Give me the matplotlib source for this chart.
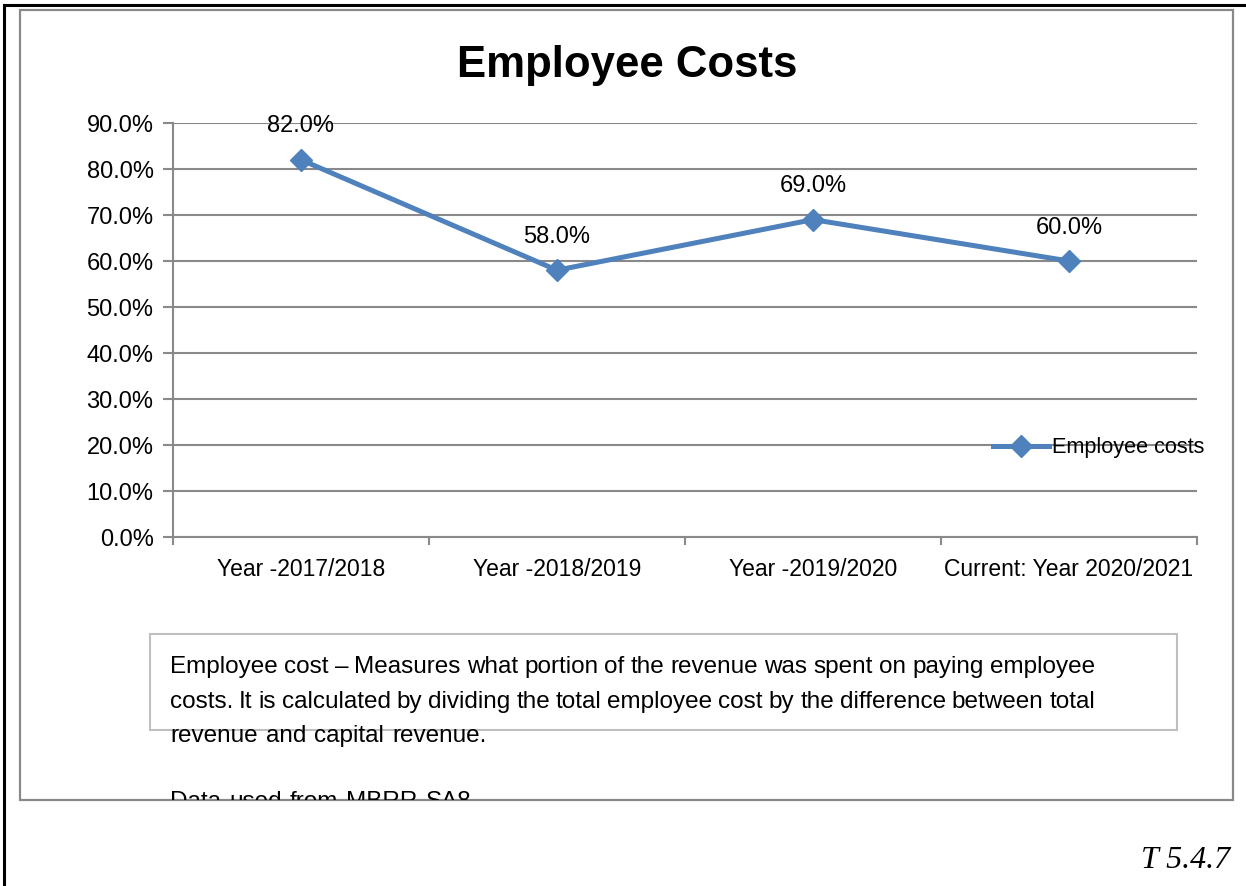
import matplotlib
matplotlib.use("Agg")
import matplotlib.pyplot as plt
from matplotlib.patches import Rectangle
from matplotlib.lines import Line2D
from matplotlib.transforms import Bbox
import numpy as np

years = ["Year -2017/2018", "Year -2018/2019", "Year -2019/2020", "Current: Year 2020/2021"]
employee_costs = [0.82, 0.58, 0.69, 0.60]
y_ticks = [0.0, 0.1, 0.2, 0.3, 0.4, 0.5, 0.6, 0.7, 0.8, 0.9]

note_lines = [
    "Employee cost \u2013 Measures what portion of the revenue was spent on paying employee",
    "costs. It is calculated by dividing the total employee cost by the difference between total",
    "revenue and capital revenue.",
    "",
    "Data used from MBRR SA8",
]

W, H = 1246, 886
blue = "#4F81BD"
grey = "#898989"

plt.rcParams["font.family"] = ["Liberation Sans", "DejaVu Sans"]


def fx(px):
    return px / W


def fy(py):
    return 1 - py / H


fig = plt.figure(figsize=(W / 100, H / 100), dpi=100)

# page border and chart frame
fig.add_artist(Line2D([fx(4), fx(W)], [fy(5), fy(5)], color="black", lw=2.2, transform=fig.transFigure))
fig.add_artist(Line2D([fx(4), fx(4)], [fy(5), fy(H)], color="black", lw=2.2, transform=fig.transFigure))
frame = Rectangle((fx(20), fy(800)), fx(1233) - fx(20), fy(10) - fy(800), transform=fig.transFigure,
                  fill=False, edgecolor=grey, lw=1.6)
fig.add_artist(frame)

fig.text(fx(627), fy(65), "Employee Costs", ha="center", va="center", fontsize=31.5, fontweight="bold")

ax = fig.add_axes([fx(173), fy(537), fx(1197) - fx(173), fy(123) - fy(537)])
x = np.arange(len(years))
ax.plot(x, employee_costs, color=blue, lw=3.6, marker="D", ms=11, label="Employee costs", zorder=3)
for i, v in enumerate(employee_costs):
    ax.annotate(f"{v:.1%}", (i, v), xytext=(0, 24), textcoords="offset points",
                ha="center", va="center", fontsize=17)

ax.set_xlim(-0.5, len(years) - 0.5)
ax.set_ylim(0, 0.9)
ax.set_yticks(y_ticks)
ax.set_yticklabels([f"{t:.1%}" for t in y_ticks])
ax.yaxis.grid(True, color=grey, lw=1.5)
ax.set_axisbelow(True)
ax.tick_params(axis="y", length=7, width=1.5, color=grey, pad=7, labelsize=17)

ax.set_xticks(x)
ax.set_xticklabels(years)
ax.set_xticks(np.arange(-0.5, len(years)), minor=True)
ax.tick_params(axis="x", which="major", length=0, pad=15, labelsize=16.5)
ax.tick_params(axis="x", which="minor", length=6, width=1.5, color=grey)

for side in ["top", "right"]:
    ax.spines[side].set_visible(False)
for side in ["left", "bottom"]:
    ax.spines[side].set_color(grey)
    ax.spines[side].set_linewidth(1.5)

ax.legend(loc="center left", bbox_to_anchor=(0.8008, 0.215), frameon=False, fontsize=15.6,
          borderpad=0, borderaxespad=0, handlelength=2.6, handletextpad=0.1)

# note box with justified text, clipped by the chart frame
fig.add_artist(Rectangle((fx(150), fy(730)), fx(1177) - fx(150), fy(634) - fy(730),
                         transform=fig.transFigure, fill=False, edgecolor="#BFBFBF", lw=1.5))
clip = Bbox([[20, H - 800], [1233, H - 10]])
renderer = fig.canvas.get_renderer()
left, right = 170, 1095
baselines = [673, 708, 742, 776, 808]
for n, (line, base) in enumerate(zip(note_lines, baselines)):
    words = line.split()
    if not words:
        continue
    texts = [fig.text(0, fy(base), w, fontsize=17.5, va="baseline", ha="left") for w in words]
    widths = [t.get_window_extent(renderer).width for t in texts]
    if n < 2 and len(words) > 1:
        gap = (right - left - sum(widths)) / (len(words) - 1)
    else:
        gap = 17.5 * 100 / 72 * 0.33
    pos = left
    for t, w in zip(texts, widths):
        t.set_x(fx(pos))
        t.set_clip_box(clip)
        t.set_clip_on(True)
        pos += w + gap

fig.text(fx(1230), fy(860), "T 5.4.7", ha="right", va="center", fontsize=23,
         family="Liberation Serif", style="italic")

fig.savefig("out.png", dpi=100)
